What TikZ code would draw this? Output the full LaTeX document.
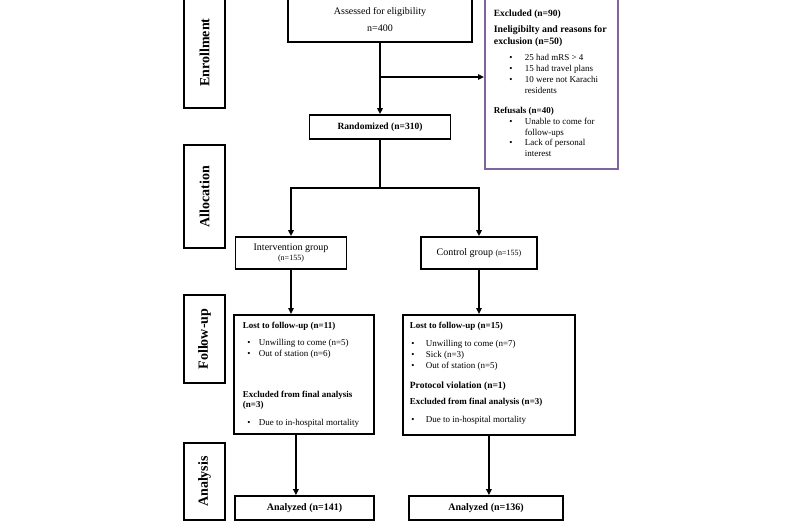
\documentclass[tikz,border=0pt]{standalone}
\usepackage{fontspec}
\setmainfont{Liberation Serif}
\usetikzlibrary{arrows.meta}
\definecolor{frame}{HTML}{8064A2}
\newcommand{\bul}[3]{\hspace*{#1}\makebox[#2][l]{\textbullet}#3}
\newcommand{\fs}[1]{\fontsize{#1}{11}\selectfont}
\tikzset{
  box/.style={draw=black,line width=1.8pt,align=center,inner sep=0pt,font=\fs{10}},
  stage/.style={draw=black,line width=1.8pt,rotate=90,inner sep=0pt,
    minimum height=41pt,font=\fontsize{14}{16}\selectfont\bfseries},
  listbox/.style={draw=black,line width=1.8pt,inner ysep=0pt,anchor=north west,
    font=\fontsize{9}{10.8}\selectfont},
  arrow/.style={-{Triangle[length=6pt,width=5.5pt]},line width=1.8pt},
  link/.style={line width=1.8pt}
}
\begin{document}
\begin{tikzpicture}[x=1pt,y=-1pt]
\useasboundingbox (0,0) rectangle (800,522);
% stages
\node[stage,minimum width=111pt] (enr) at (204.5,52.5) {Enrollment};
\node[stage,minimum width=103pt] (alc) at (204.5,196.5) {Allocation};
\node[stage,minimum width=88pt] (fol) at (204.5,339) {Follow-up};
\node[stage,minimum width=77pt] (anl) at (204.5,481.5) {Analysis};
% flow
\node[box,minimum width=184pt,minimum height=44pt] (assess) at (380,20) {Assessed for eligibility\\[6pt]n=400};
\node[box,minimum width=141pt,minimum height=24pt,font=\fs{9.5}\bfseries] (rand) at (380,127) {Randomized (n=310)};
\node[box,minimum width=111pt,minimum height=32pt] (int) at (291,253) {Intervention group\\[-0.5pt]{\fontsize{8}{8}\selectfont(n=155)}};
\node[box,minimum width=116pt,minimum height=32pt] (ctl) at (479,253) {Control group {\fontsize{8}{8}\selectfont(n=155)}};
\node[box,minimum width=139pt,minimum height=24pt,font=\fs{10}\bfseries] (anaI) at (304.5,508) {Analyzed (n=141)};
\node[box,minimum width=154pt,minimum height=24pt,font=\fs{10}\bfseries] (anaC) at (486,508) {Analyzed (n=136)};
% excluded
\node[listbox,draw=frame,inner xsep=9pt] (excl) at (484,-3) {\parbox[t][171pt][t]{115pt}{\raggedright
  \vspace*{12pt}{\fontsize{9.5}{11}\selectfont\bfseries Excluded (n=90)\par}
  \vspace{4.5pt}
  {\fontsize{9.8}{12}\selectfont\bfseries Ineligibilty and reasons for\\exclusion (n=50)\par}
  \vspace{5pt}
  \bul{15.5pt}{15.5pt}{25 had mRS > 4}\\
  \bul{15.5pt}{15.5pt}{15 had travel plans}\\
  \bul{15.5pt}{15.5pt}{10 were not Karachi}\\
  \hspace*{31pt}residents\par
  \vspace{9.5pt}
  {\bfseries Refusals (n=40)}\par
  \bul{15.5pt}{15.5pt}{Unable to come for}\\
  \hspace*{31pt}follow-ups\\
  \bul{15.5pt}{15.5pt}{Lack of personal}\\
  \hspace*{31pt}interest}};
% follow-up
\node[listbox,inner xsep=9pt] (fuI) at (233,314) {\parbox[t][119pt][t]{122pt}{\raggedright
  \vspace*{7pt}{\bfseries Lost to follow-up (n=11)}\par
  \vspace{6.5pt}
  \bul{4.5pt}{11.5pt}{Unwilling to come (n=5)}\\
  \bul{4.5pt}{11.5pt}{Out of station (n=6)}\par
  \vspace{30pt}
  {\bfseries Excluded from final analysis\\(n=3)}\par
  \vspace{7pt}
  \bul{4.5pt}{11.5pt}{Due to in-hospital mortality}}};
\node[listbox,inner xsep=7pt] (fuC) at (402,314) {\parbox[t][120pt][t]{158pt}{\raggedright
  \vspace*{7pt}{\bfseries Lost to follow-up (n=15)}\par
  \vspace{7.5pt}
  \bul{1.5pt}{14.5pt}{Unwilling to come (n=7)}\\
  \bul{1.5pt}{14.5pt}{Sick (n=3)}\\
  \bul{1.5pt}{14.5pt}{Out of station (n=5)}\par
  \vspace{9pt}
  {\fontsize{9.5}{11}\selectfont\bfseries Protocol violation (n=1)\par}
  \vspace{6pt}
  {\bfseries Excluded from final analysis (n=3)}\par
  \vspace{7pt}
  \bul{1.5pt}{14.5pt}{Due to in-hospital mortality}}};
% connectors
\coordinate (ex) at (380,77);
\coordinate (fork) at (380,188);
\draw[arrow] (assess.south) -- (rand.north);
\draw[arrow] (ex) -- (ex -| excl.west);
\draw[link] (rand.south) -- (fork);
\draw[arrow] (fork) -| (int.north);
\draw[arrow] (fork) -| (ctl.north);
\draw[arrow] (int.south) -- (int.south |- fuI.north);
\draw[arrow] ([xshift=-8pt]fuI.south) -- ([xshift=-8pt]fuI.south |- anaI.north);
\draw[arrow] (ctl.south) -- (ctl.south |- fuC.north);
\draw[arrow] (fuC.south) -- (fuC.south |- anaC.north);
\end{tikzpicture}
\end{document}
